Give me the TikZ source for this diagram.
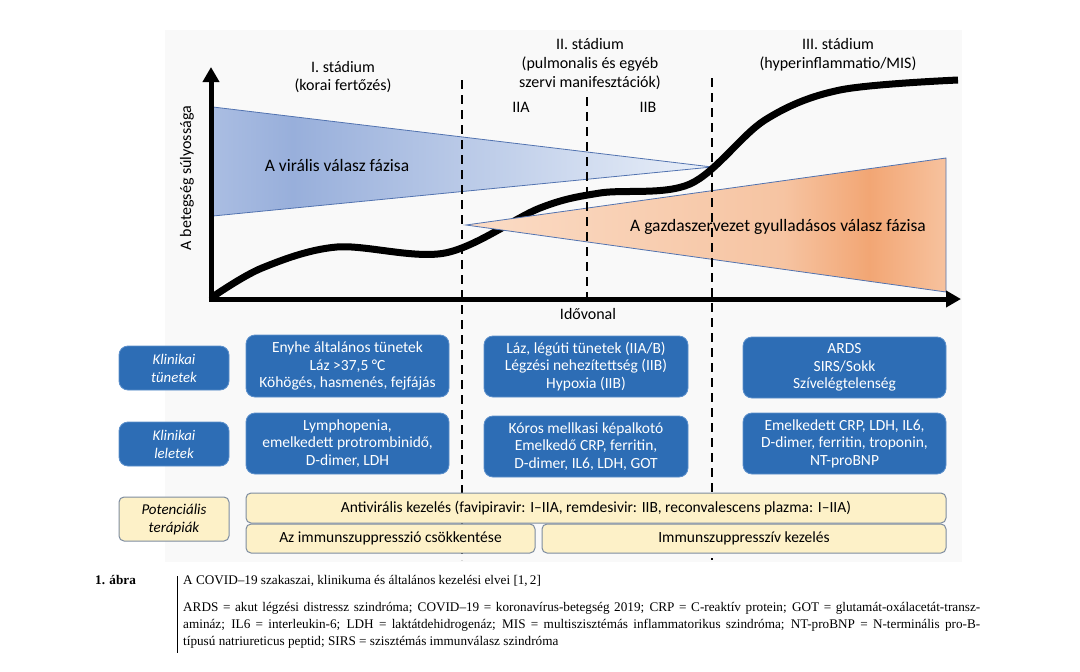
\documentclass[tikz,border=0pt]{standalone}
\usepackage{fontspec}
\setmainfont{Carlito}
\newfontfamily\capfont{Liberation Serif}
\usetikzlibrary{arrows.meta}
\definecolor{boxblue}{HTML}{2D6DB5}
\definecolor{boxblueedge}{HTML}{5B8FCB}
\definecolor{yel}{HTML}{FDF1C8}
\definecolor{yeledge}{HTML}{7D8CA0}
\definecolor{triedge}{HTML}{5273B0}
\definecolor{bgray}{HTML}{F9F9F9}
\definecolor{bl1}{HTML}{AABDE2}
\definecolor{bl2}{HTML}{98AFDB}
\definecolor{bl3}{HTML}{EAF0F9}
\definecolor{or1}{HTML}{FBDCC6}
\definecolor{or2}{HTML}{F6C4A2}
\definecolor{or3}{HTML}{F2A674}
\definecolor{or4}{HTML}{F7C29E}
\pgfdeclarehorizontalshading{blueshade}{100bp}{color(0bp)=(bl1); color(25bp)=(bl1); color(33bp)=(bl2); color(75bp)=(bl3); color(100bp)=(bl3)}
\pgfdeclarehorizontalshading{orangeshade}{100bp}{color(0bp)=(or1); color(25bp)=(or1); color(58bp)=(or2); color(67bp)=(or3); color(75bp)=(or4); color(100bp)=(or4)}
\tikzset{
  bluebox/.style={draw=boxblueedge, line width=0.8pt, fill=boxblue, rounded corners=9pt, text=white, align=center, inner sep=0pt, font=\fontsize{15.5}{17.6}\selectfont},
  labbox/.style={bluebox, minimum width=110pt, minimum height=44pt, font=\fontsize{14.8}{18}\selectfont\itshape},
  yelbox/.style={draw=yeledge, line width=1pt, fill=yel, rounded corners=5pt, text=black, align=center, inner sep=0pt, font=\fontsize{15.5}{17.6}\selectfont},
  stagedash/.style={line width=2.2pt, dash pattern=on 9pt off 6pt},
  axisline/.style={line width=5pt, -{Triangle[width=16pt,length=15pt]}},
  title/.style={align=center, font=\fontsize{16}{18.6}\selectfont},
  phase/.style={font=\fontsize{17.5}{20}\selectfont},
  capline/.style={anchor=base west, inner sep=0pt, font=\capfont\fontsize{13.2}{15}\selectfont}
}
\begin{document}
\begin{tikzpicture}[x=1pt,y=-1pt]
\useasboundingbox (0,0) rectangle (1080,672);
\fill[white] (0,0) rectangle (1080,672);
\fill[bgray] (165,30) rectangle (962,562);
% viral phase triangle
\shade[shading=blueshade, draw=triedge, line width=0.8pt] (213,107) -- (213,216) -- (712,167) -- cycle;
% severity curve
\draw[line width=7pt] plot[smooth, tension=0.55] coordinates {(211,298) (262,268) (337,247) (445,253) (540,208) (600,193) (690,184) (765,120) (840,90) (958,80)};
% host inflammatory phase triangle
\shade[shading=orangeshade, draw=triedge, line width=0.8pt] (466,225) -- (946,158) -- (946,292) -- cycle;
\node[phase] (vir) at (337,165) {A virális válasz fázisa};
\node[phase] (host) at (778,227) {A gazdaszervezet gyulladásos válasz fázisa};
% stage dashed lines
\coordinate (d1t) at (462,80); \coordinate (d1b) at (462,560);
\coordinate (d2t) at (587,97); \coordinate (d2b) at (587,298);
\coordinate (d3t) at (712,78); \coordinate (d3b) at (712,560);
\draw[stagedash] (d1t) -- (d1b);
\draw[stagedash] (d2t) -- (d2b);
\draw[stagedash] (d3t) -- (d3b);
% axes
\coordinate (O) at (211,299);
\coordinate (Ytip) at (211,67);
\coordinate (Xtip) at (961,299);
\draw[axisline] (O) -- (Ytip);
\draw[axisline] (208.5,299) -- (Xtip);
\node[rotate=90, font=\fontsize{16}{18}\selectfont] (ylab) at (187,178) {A betegség súlyossága};
\node[font=\fontsize{16}{18}\selectfont] (xlab) at (588,314) {Idővonal};
% stage titles
\node[title] (st1) at (343,77) {I. stádium\\(korai fertőzés)};
\node[title] (st2) at (590,64) {II. stádium\\(pulmonalis és egyéb\\szervi manifesztációk)};
\node[title] (st3) at (838,55) {III. stádium\\(hyperinflammatio/MIS)};
\node[title] (iia) at (521,107) {IIA};
\node[title] (iib) at (648,107) {IIB};
% row labels
\node[labbox] (k1) at (174,368) {Klinikai\\tünetek};
\node[labbox] (k2) at (174,444) {Klinikai\\leletek};
\node[yelbox, minimum width=110pt, minimum height=44pt, font=\fontsize{15}{18}\selectfont\itshape] (k3) at (174,519) {Potenciális\\terápiák};
% symptom boxes
\node[bluebox, minimum width=203pt, minimum height=62pt] (s1) at (347.5,366) {Enyhe általános tünetek\\Láz >37,5 °C\\Köhögés, hasmenés, fejfájás};
\node[bluebox, minimum width=204pt, minimum height=61pt] (s2) at (586,366.5) {Láz, légúti tünetek (IIA/B)\\Légzési nehezítettség (IIB)\\Hypoxia (IIB)};
\node[bluebox, minimum width=203pt, minimum height=61pt] (s3) at (844.5,367.5) {ARDS\\SIRS/Sokk\\Szívelégtelenség};
% finding boxes
\node[bluebox, minimum width=203pt, minimum height=61pt] (l1) at (347.5,443.5) {Lymphopenia,\\emelkedett protrombinidő,\\D-dimer, LDH};
\node[bluebox, minimum width=204pt, minimum height=61pt] (l2) at (586,446.5) {Kóros mellkasi képalkotó\\Emelkedő CRP, ferritin,\\D-dimer, IL6, LDH, GOT};
\node[bluebox, minimum width=203pt, minimum height=61pt] (l3) at (844.5,443.5) {Emelkedett CRP, LDH, IL6,\\D-dimer, ferritin, troponin,\\NT-proBNP};
% therapy boxes
\node[yelbox, minimum width=700pt, minimum height=30pt] (t1) at (596,508) {Antivirális kezelés (favipiravir: I–IIA, remdesivir: IIB, reconvalescens plazma: I–IIA)};
\node[yelbox, minimum width=289pt, minimum height=29pt] (t2) at (390.5,538.5) {Az immunszuppresszió csökkentése};
\node[yelbox, minimum width=404pt, minimum height=29pt] (t3) at (744,538.5) {Immunszuppresszív kezelés};
% caption
\node[anchor=base west, inner sep=0pt, font=\capfont\bfseries\fontsize{13.2}{15}\selectfont] (fig) at (95,584) {1. ábra};
\coordinate (vt) at (177,576); \coordinate (vb) at (177,653);
\draw[line width=0.8pt] (vt) -- (vb);
\node[capline] (c0) at (183,584) {A COVID–19 szakaszai, klinikuma és általános kezelési elvei [1,\,2]};
\node[capline] (c1) at (183,611) {\makebox[797pt][s]{ARDS = akut légzési distressz szindróma; COVID–19 = koronavírus-betegség 2019; CRP = C-reaktív protein; GOT = glutamát-oxálacetát-transz-}};
\node[capline] (c2) at (183,628) {\makebox[797pt][s]{amináz; IL6 = interleukin-6; LDH = laktátdehidrogenáz; MIS = multiszisztémás inflammatorikus szindróma; NT-proBNP = N-terminális pro-B-}};
\node[capline] (c3) at (183,645) {típusú natriureticus peptid; SIRS = szisztémás immunválasz szindróma};
\end{tikzpicture}
\end{document}
